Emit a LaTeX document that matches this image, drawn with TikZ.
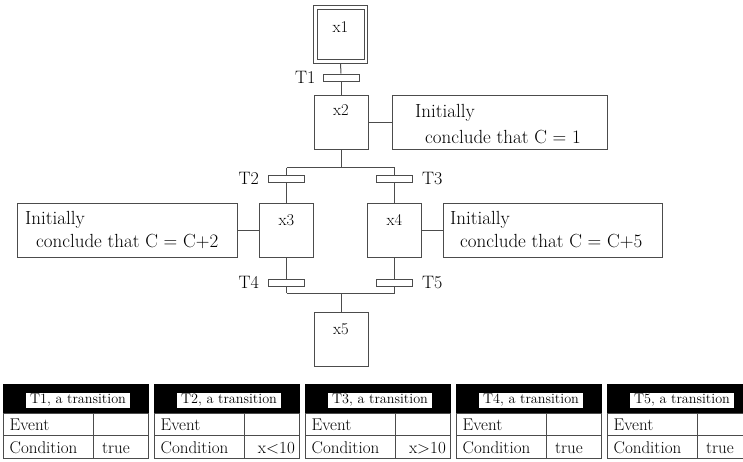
\documentclass[tikz,border=0pt]{standalone}
\usetikzlibrary{calc}
\definecolor{linec}{gray}{0.3}
\newcommand\fsAct{\fontsize{19}{22}\selectfont}
\newcommand\fsLbl{\fontsize{18}{21}\selectfont}
\newcommand\fsStep{\fontsize{16.5}{19}\selectfont}
\newcommand\fsTab{\fontsize{17}{20}\selectfont}
\newcommand\fsHdr{\fontsize{14.2}{16}\selectfont}
\tikzset{
  stepbox/.style={draw=linec, line width=1pt, minimum width=54pt, minimum height=54pt, inner sep=0pt},
  trbar/.style={draw=linec, line width=1pt, minimum width=36pt, minimum height=7pt, inner sep=0pt},
  conn/.style={draw=linec, line width=1pt},
  actbox/.style={draw=linec, line width=1pt, minimum height=54pt, inner sep=0pt},
  acttxt/.style={anchor=base west, inner sep=0pt, font=\fsAct},
  steptxt/.style={inner sep=0pt, font=\fsStep},
  trlblL/.style={anchor=east, inner sep=0pt, font=\fsLbl},
  trlblR/.style={anchor=west, inner sep=0pt, font=\fsLbl},
  cell/.style={draw=linec, line width=1pt, anchor=north west, inner sep=0pt},
  hdrbar/.style={fill=black, draw=black, line width=1pt, anchor=north west, inner sep=0pt, minimum width=145pt, minimum height=29pt},
  hdrtxt/.style={fill=white, inner xsep=4pt, inner ysep=0pt, minimum height=15pt, font=\fsHdr},
  tabtxt/.style={inner sep=0pt, font=\fsTab},
}
\begin{document}
\begin{tikzpicture}[x=1pt, y=-1pt]
\useasboundingbox (0,0) rectangle (743,461);

% step x1 (initial)
\node[stepbox, minimum width=54pt, minimum height=58pt] (x1o) at (340.5,34) {};
\node[stepbox, minimum width=47pt, minimum height=50pt] (x1) at (340.5,34) {};
\node[steptxt] (x1t) at (340.5,27) {x1};

% T1
\node[trbar] (T1) at (341,77.5) {};
\node[trlblL] (T1l) at ($(T1.west)+(-7,0)$) {T1};

% step x2
\node[stepbox] (x2) at (341,122) {};
\node[steptxt] (x2t) at (341,110) {x2};
\node[actbox, minimum width=215pt] (a2) at (499.5,122) {};
\node[acttxt] (a2a) at (415,117) {Initially};
\node[acttxt] (a2b) at (425,143) {conclude that C = 1};

% split
\coordinate (sp) at (341,167.5);
\coordinate (spl) at (286.5,167.5);
\coordinate (spr) at (394.5,167.5);
\node[trbar] (T2) at (286.5,178.5) {};
\node[trlblL] (T2l) at ($(T2.west)+(-9,0)$) {T2};
\node[trbar] (T3) at (394.5,178.5) {};
\node[trlblR] (T3l) at ($(T3.east)+(9,0)$) {T3};

% steps x3, x4
\node[stepbox] (x3) at (286.5,230) {};
\node[steptxt] (x3t) at (286.5,220) {x3};
\node[stepbox] (x4) at (394.5,230) {};
\node[steptxt] (x4t) at (394.5,220) {x4};

\node[actbox, minimum width=220pt] (a3) at (127,230) {};
\node[acttxt] (a3a) at (25,224.5) {Initially};
\node[acttxt] (a3b) at (36,247.5) {conclude that C = C+2};
\node[actbox, minimum width=219pt] (a4) at (552.5,230) {};
\node[acttxt] (a4a) at (450,224.5) {Initially};
\node[acttxt] (a4b) at (460,247.5) {conclude that C = C+5};

% T4, T5
\node[trbar] (T4) at (286.5,282.5) {};
\node[trlblL] (T4l) at ($(T4.west)+(-9,0)$) {T4};
\node[trbar] (T5) at (394.5,282.5) {};
\node[trlblR] (T5l) at ($(T5.east)+(9,0)$) {T5};

\coordinate (jl) at (286.5,293);
\coordinate (jr) at (394.5,293);
\coordinate (jm) at (341,293);

% step x5
\node[stepbox] (x5) at (341,339) {};
\node[steptxt] (x5t) at (341,329) {x5};

% connectors
\draw[conn] (x1o.south) -- (T1.north);
\draw[conn] (T1.south) -- (x2.north);
\draw[conn] (x2.east) -- (a2.west);
\draw[conn] (x2.south) -- (sp);
\draw[conn] (spl) -- (spr);
\draw[conn] (spl) -- (T2.north);
\draw[conn] (T2.south) -- (x3.north);
\draw[conn] (spr) -- (T3.north);
\draw[conn] (T3.south) -- (x4.north);
\draw[conn] (a3.east) -- (x3.west);
\draw[conn] (x4.east) -- (a4.west);
\draw[conn] (x3.south) -- (T4.north);
\draw[conn] (T4.south) -- (jl);
\draw[conn] (x4.south) -- (T5.north);
\draw[conn] (T5.south) -- (jr);
\draw[conn] (jl) -- (jr);
\draw[conn] (jm) -- (x5.north);

% tables
\foreach \i/\val/\al in {1/true/l, 2/x<10/r, 3/x>10/r, 4/true/l, 5/true/l} {
  \pgfmathsetmacro{\L}{3+151*(\i-1)}
  \node[hdrbar] (h\i) at (\L,384) {};
  \node[hdrtxt] (ht\i) at (\L+75,400) {T\i, a transition};
  \node[cell, minimum width=90pt, minimum height=22pt] (ev\i) at (\L,413) {};
  \node[cell, minimum width=55pt, minimum height=22pt] (evv\i) at (\L+90,413) {};
  \node[cell, minimum width=90pt, minimum height=23pt] (cd\i) at (\L,435) {};
  \node[cell, minimum width=55pt, minimum height=23pt] (cdv\i) at (\L+90,435) {};
  \node[tabtxt, anchor=base west] (evt\i) at (\L+6.5,430) {Event};
  \node[tabtxt, anchor=base west] (cdt\i) at (\L+6.5,453) {Condition};
  \if\al l
    \node[tabtxt, anchor=base west] (cdvt\i) at (\L+99,453) {\val};
  \else
    \node[tabtxt, anchor=base east] (cdvt\i) at (\L+141,453) {\val};
  \fi
}
\end{tikzpicture}
\end{document}
